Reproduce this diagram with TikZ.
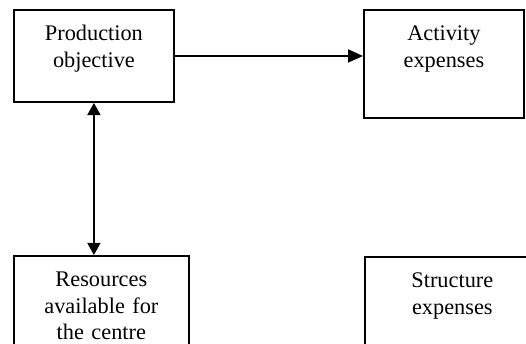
\documentclass[tikz,border=0pt]{standalone}
\usepackage{fontspec}
\setmainfont{Liberation Serif}
\usetikzlibrary{arrows.meta}

\begin{document}
\begin{tikzpicture}[
  x=0.5376pt,y=-0.5376pt,
  box/.style={draw,line width=1pt,anchor=north west,align=center,
    font=\fontsize{12}{14}\selectfont,inner xsep=4pt,inner ysep=7pt,text height=9.7pt},
  link/.style={line width=0.75pt,-{Triangle[length=8pt,width=7pt]}},
  both/.style={line width=0.75pt,{Triangle[length=6.5pt,width=7pt]}-{Triangle[length=6.5pt,width=7pt]}}]

\useasboundingbox (0,0) rectangle (526,344);
\clip (0,0) rectangle (526,344);

% top row
\node[box,text width=78pt,text depth=25.8pt] (objective) at (13,9)
  {Production\\objective};
\node[box,text width=78pt,text depth=34.4pt] (activity) at (363,9)
  {Activity\\expenses};

% bottom row (runs off the page)
\node[box,text width=86pt,text depth=60pt] (resources) at (13,255)
  {Resources\\available for\\the centre};
\node[box,text width=86pt,text depth=60pt] (structure) at (364,256)
  {Structure\\expenses};

% connectors
\draw[link] (objective.east) -- (objective.east -| activity.west);
\draw[both] (objective.south) -- (objective.south |- resources.north);

\end{tikzpicture}
\end{document}
